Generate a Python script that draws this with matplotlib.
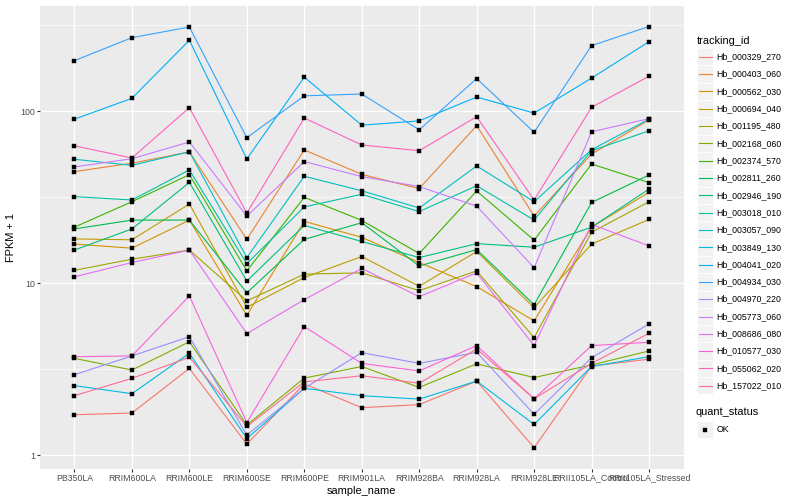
import matplotlib
matplotlib.use("Agg")
import matplotlib.pyplot as plt
import numpy as np
from matplotlib.lines import Line2D
from matplotlib.patches import Rectangle

plt.rcParams['font.family'] = ['Liberation Sans', 'DejaVu Sans']

samples = ["PB350LA", "RRIM600LA", "RRIM600LE", "RRIM600SE", "RRIM600PE",
           "RRIM901LA", "RRIM928BA", "RRIM928LA", "RRIM928LE",
           "RRII105LA_Control", "RRII105LA_Stressed"]

tracking_ids = ["Hb_000329_270", "Hb_000403_060", "Hb_000562_030", "Hb_000694_040",
                "Hb_001195_480", "Hb_002168_060", "Hb_002374_570", "Hb_002811_260",
                "Hb_002946_190", "Hb_003018_010", "Hb_003057_090", "Hb_003849_130",
                "Hb_004041_020", "Hb_004934_030", "Hb_004970_220", "Hb_005773_060",
                "Hb_008686_080", "Hb_010577_030", "Hb_055062_020", "Hb_157022_010"]

colors = ["#F8766D", "#EA8331", "#D89000", "#C09B00", "#A3A500", "#7CAE00",
          "#39B600", "#00BB4E", "#00BF7D", "#00C1A3", "#00BFC4", "#00BAE0",
          "#00B0F6", "#35A2FF", "#9590FF", "#C77CFF", "#E76BF3", "#FA62DB",
          "#FF62BC", "#FF6C91"]

Hb_000329_270 = [1.72, 1.76, 3.2, 1.16, 2.6, 1.89, 1.97, 2.7, 1.107, 3.3, 3.62]
Hb_000403_060 = [44.6, 49.9, 58, 18, 59.6, 43, 35.5, 82.5, 24.6, 56.4, 89]
Hb_000562_030 = [16.9, 16.0, 23.3, 6.5, 22.9, 18.5, 13.2, 9.56, 6.04, 21.2, 33.8]
Hb_000694_040 = [18.1, 17.9, 28.9, 7.25, 10.8, 14.3, 9.6, 15.3, 7.2, 16.9, 23.5]
Hb_001195_480 = [11.9, 13.8, 15.6, 7.9, 11.3, 11.5, 9.06, 11.8, 4.83, 19.8, 29.8]
Hb_002168_060 = [3.66, 3.13, 4.57, 1.5, 2.81, 3.28, 2.48, 3.4, 2.83, 3.35, 4.04]
Hb_002374_570 = [21.2, 29.8, 42.8, 11.8, 31.6, 23.2, 14.9, 34.4, 17.8, 49.4, 38.5]
Hb_002811_260 = [20.7, 23.3, 23.3, 8.8, 18.0, 22.5, 12.6, 15.7, 7.5, 29.5, 42.6]
Hb_002946_190 = [15.6, 20.7, 38.6, 10.3, 21.7, 17.5, 14.1, 17.0, 16.2, 21.2, 35.3]
Hb_003018_010 = [31.9, 30.5, 45.6, 13.0, 27.8, 32.9, 26.1, 36.9, 23.3, 59.0, 77]
Hb_003057_090 = [52.6, 48.5, 58.2, 14.1, 41.9, 34.5, 27.4, 48.1, 29.8, 59.8, 90]
Hb_003849_130 = [2.54, 2.28, 3.92, 1.25, 2.45, 2.22, 2.12, 2.7, 1.51, 3.28, 3.74]
Hb_004041_020 = [90, 119, 259, 52.8, 158, 83, 88, 121, 97.6, 156, 254]
Hb_004934_030 = [197, 268, 309, 70.2, 123, 126, 78, 155, 75.5, 241, 311]
Hb_004970_220 = [2.94, 3.78, 4.89, 1.31, 2.45, 3.95, 3.42, 3.97, 1.73, 3.69, 5.8]
Hb_005773_060 = [47.5, 53, 66.3, 24.6, 51, 41.7, 36.5, 28.1, 12.3, 76, 90.6]
Hb_008686_080 = [10.9, 13.2, 15.6, 5.1, 8.03, 12.2, 8.36, 11.5, 4.34, 22.0, 16.5]
Hb_010577_030 = [3.74, 3.78, 8.43, 1.55, 5.6, 3.42, 3.09, 4.34, 2.13, 4.34, 4.54]
Hb_055062_020 = [63, 53.5, 105, 25.6, 91.4, 63.7, 59, 93, 30.5, 105.5, 160]
Hb_157022_010 = [2.22, 2.80, 3.71, 1.47, 2.67, 2.9, 2.62, 4.15, 2.13, 3.42, 5.12]

series = [Hb_000329_270, Hb_000403_060, Hb_000562_030, Hb_000694_040, Hb_001195_480,
          Hb_002168_060, Hb_002374_570, Hb_002811_260, Hb_002946_190, Hb_003018_010,
          Hb_003057_090, Hb_003849_130, Hb_004041_020, Hb_004934_030, Hb_004970_220,
          Hb_005773_060, Hb_008686_080, Hb_010577_030, Hb_055062_020, Hb_157022_010]

y_ticks = [1, 10, 100]
y_tick_labels = ["1", "10", "100"]

W, H = 800, 500
fig = plt.figure(figsize=(W / 100, H / 100), dpi=100)
fig.patch.set_facecolor("white")

# panel in pixel coordinates
pl, pr, pt, pb = 40.0, 683.5, 5.5, 468.7
ax = fig.add_axes([pl / W, 1 - pb / H, (pr - pl) / W, (pb - pt) / H])
ax.set_facecolor("#EBEBEB")
for s in ax.spines.values():
    s.set_visible(False)

x = np.arange(len(samples))
for vals, col in zip(series, colors):
    ax.plot(x, vals, color=col, lw=0.8, zorder=3, solid_capstyle="butt")
for vals in series:
    ax.plot(x, vals, ls="none", marker="s", ms=2.5, mew=0.3, color="black", zorder=4)

ax.set_yscale("log")
allv = np.concatenate([np.asarray(v, float) for v in series])
lmin, lmax = np.log10(allv.min()), np.log10(allv.max())
r = lmax - lmin
ax.set_ylim(10 ** (lmin - 0.05 * r), 10 ** (lmax + 0.05 * r))
ax.set_xlim(-0.6, len(samples) - 1 + 0.6)

ax.set_yticks(y_ticks)
ax.set_yticklabels(y_tick_labels)
ax.set_yticks([10 ** 0.5, 10 ** 1.5, 10 ** 2.5], minor=True)
ax.yaxis.set_minor_formatter(matplotlib.ticker.NullFormatter())
ax.set_xticks(x)
ax.set_xticklabels(samples)

ax.tick_params(axis="both", which="major", length=2.0, width=0.8, color="#333333",
               labelsize=6.34, labelcolor="#4D4D4D", pad=1.6)
ax.tick_params(axis="y", which="minor", length=0)
ax.grid(True, which="major", color="white", lw=1.0)
ax.grid(True, which="minor", axis="y", color="white", lw=0.5)
ax.set_axisbelow(True)

ax.set_xlabel("sample_name", fontsize=7.92, color="black", labelpad=2.5)
ax.set_ylabel("FPKM + 1", fontsize=7.92, color="black", labelpad=3)

# legend: tracking_id
def fx(px_):
    return px_ / W

def fy(py_):
    return 1 - py_ / H

fig.text(fx(697), fy(40.7), "tracking_id", fontsize=7.92, va="center", ha="left")
key_h = 17.32
for i, (tid, col) in enumerate(zip(tracking_ids, colors)):
    yc = 56.7 + i * key_h
    fig.patches.append(Rectangle((fx(697), fy(yc + key_h / 2)), 16 / W, key_h / H,
                                 transform=fig.transFigure, facecolor="#F2F2F2",
                                 edgecolor="white", lw=0.6))
    fig.lines.append(Line2D([fx(698.5), fx(711.5)], [fy(yc), fy(yc)],
                            transform=fig.transFigure, color=col, lw=0.8))
    fig.text(fx(716.5), fy(yc), tid, fontsize=6.34, va="center", ha="left")

# legend: quant_status
fig.text(fx(696), fy(412.3), "quant_status", fontsize=7.92, va="center", ha="left")
yc = 429.5
fig.patches.append(Rectangle((fx(697), fy(yc + key_h / 2)), 16 / W, key_h / H,
                             transform=fig.transFigure, facecolor="#F2F2F2",
                             edgecolor="white", lw=0.6))
fig.lines.append(Line2D([fx(705)], [fy(yc)], transform=fig.transFigure,
                        marker="s", ms=2.5, mew=0.3, color="black", ls="none"))
fig.text(fx(716.5), fy(yc), "OK", fontsize=6.34, va="center", ha="left")

fig.savefig("out.png", dpi=100, facecolor="white")
